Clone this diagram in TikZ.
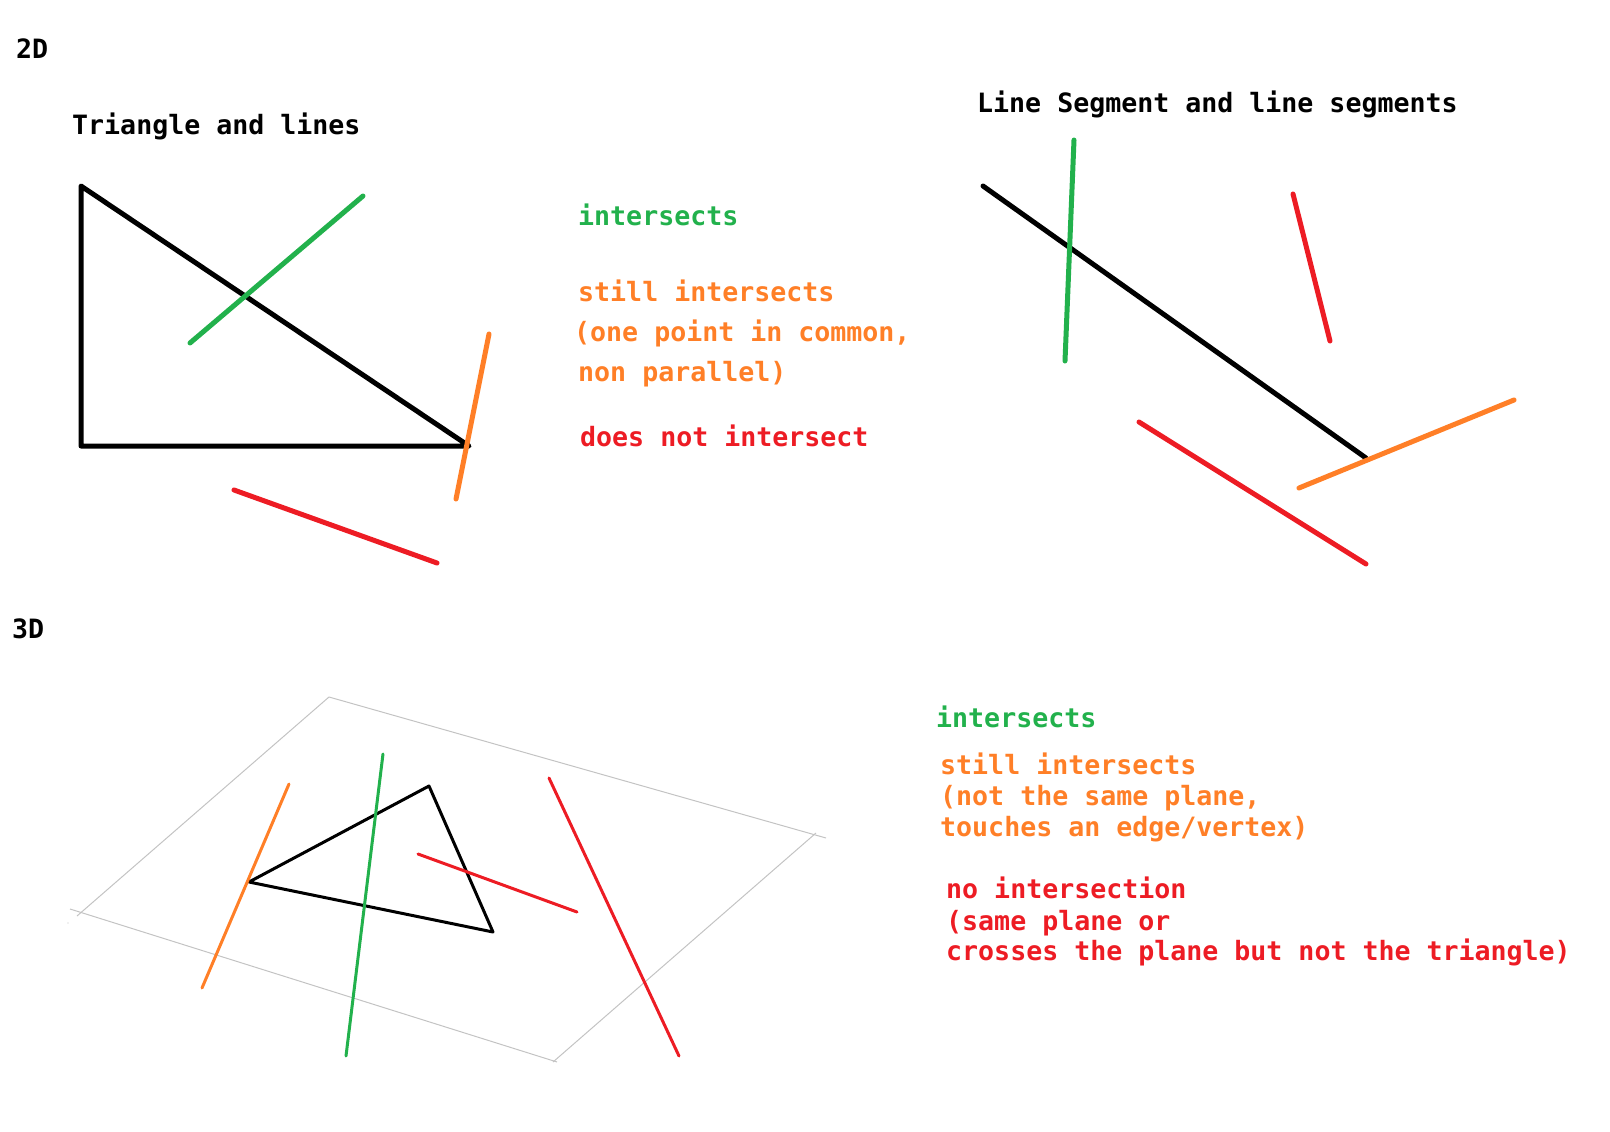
\documentclass[tikz,border=0pt]{standalone}
\usepackage{fontspec}
\setmonofont{DejaVu Sans Mono}
\definecolor{hitgreen}{HTML}{22B14C}
\definecolor{touchorange}{HTML}{FF7F27}
\definecolor{missred}{HTML}{ED1C24}
\definecolor{planegray}{HTML}{C3C3C3}
\tikzset{x=1pt,y=-1pt,
    every node/.style={
        anchor=base west,
        inner sep=0pt,
        font=\fontsize{26.6pt}{30pt}\selectfont\ttfamily\bfseries},
    thickseg/.style={line width=5pt,line cap=round,line join=round},
    medseg/.style={line width=3pt,line cap=round,line join=round},
    planeseg/.style={line width=1pt,planegray}}

\begin{document}
\begin{tikzpicture}
        \useasboundingbox (0,0) rectangle (1610,1132);

        % 2D: triangle and lines
        \node (dim2) at (16,59) {2D};
        \node (title2a) at (72,135) {Triangle and lines};

        \coordinate (ta) at (81,186);
        \coordinate (tb) at (81,446);
        \coordinate (tc) at (469,446);
        \draw[thickseg] (ta) -- (tb) -- (tc) -- cycle;

        \coordinate (g1a) at (363,196);
        \coordinate (g1b) at (190,343);
        \coordinate (o1a) at (489,334);
        \coordinate (o1b) at (456,499);
        \coordinate (r1a) at (234,490);
        \coordinate (r1b) at (437,563);
        \draw[thickseg,hitgreen] (g1a) -- (g1b);
        \draw[thickseg,touchorange] (o1a) -- (o1b);
        \draw[thickseg,missred] (r1a) -- (r1b);

        \node[hitgreen] (hit2) at (578,225) {intersects};
        \node[touchorange] (touch2a) at (578,301) {still intersects};
        \node[touchorange] (touch2b) at (574,341) {(one point in common,};
        \node[touchorange] (touch2c) at (578,381) {non parallel)};
        \node[missred] (miss2) at (580,446) {does not intersect};

        % 2D: line segments
        \node (title2b) at (977,113) {Line Segment and line segments};

        \coordinate (sa) at (983,186);
        \coordinate (sb) at (1366,458);
        \draw[thickseg] (sa) -- (sb);

        \coordinate (g2a) at (1074,140);
        \coordinate (g2b) at (1065,361);
        \coordinate (r2a) at (1293,194);
        \coordinate (r2b) at (1330,341);
        \coordinate (r3a) at (1139,422);
        \coordinate (r3b) at (1366,564);
        \coordinate (o2a) at (1299,488);
        \coordinate (o2b) at (1514,400);
        \draw[thickseg,hitgreen] (g2a) -- (g2b);
        \draw[thickseg,missred] (r2a) -- (r2b);
        \draw[thickseg,missred] (r3a) -- (r3b);
        \draw[thickseg,touchorange] (o2a) -- (o2b);

        % 3D
        \node (dim3) at (12,638) {3D};

        \coordinate (pa) at (329,697);
        \coordinate (pb) at (826,838);
        \coordinate (pc) at (816,833);
        \coordinate (pd) at (553,1062);
        \coordinate (pe) at (557,1062);
        \coordinate (pf) at (70,909);
        \coordinate (pg) at (77,916);
        \draw[planeseg] (pa) -- (pb);
        \draw[planeseg] (pc) -- (pd);
        \draw[planeseg] (pe) -- (pf);
        \draw[planeseg] (pg) -- (pa);
        \fill[planegray] (68,923) circle (0.7);

        \coordinate (va) at (429,786);
        \coordinate (vb) at (249,882);
        \coordinate (vc) at (493,932);
        \draw[medseg] (va) -- (vb) -- (vc) -- cycle;

        \coordinate (g3a) at (383,754);
        \coordinate (g3b) at (346,1056);
        \coordinate (o3a) at (289,784);
        \coordinate (o3b) at (202,988);
        \coordinate (r4a) at (418,854);
        \coordinate (r4b) at (577,912);
        \coordinate (r5a) at (549,778);
        \coordinate (r5b) at (679,1056);
        \draw[medseg,hitgreen] (g3a) -- (g3b);
        \draw[medseg,touchorange] (o3a) -- (o3b);
        \draw[medseg,missred] (r4a) -- (r4b);
        \draw[medseg,missred] (r5a) -- (r5b);

        \node[hitgreen] (hit3) at (936,727) {intersects};
        \node[touchorange] (touch3a) at (940,774) {still intersects};
        \node[touchorange] (touch3b) at (940,805) {(not the same plane,};
        \node[touchorange] (touch3c) at (940,836) {touches an edge/vertex)};
        \node[missred] (miss3a) at (946,898) {no intersection};
        \node[missred] (miss3b) at (946,930) {(same plane or};
        \node[missred] (miss3c) at (946,960) {crosses the plane but not the triangle)};
    \end{tikzpicture}
\end{document}
